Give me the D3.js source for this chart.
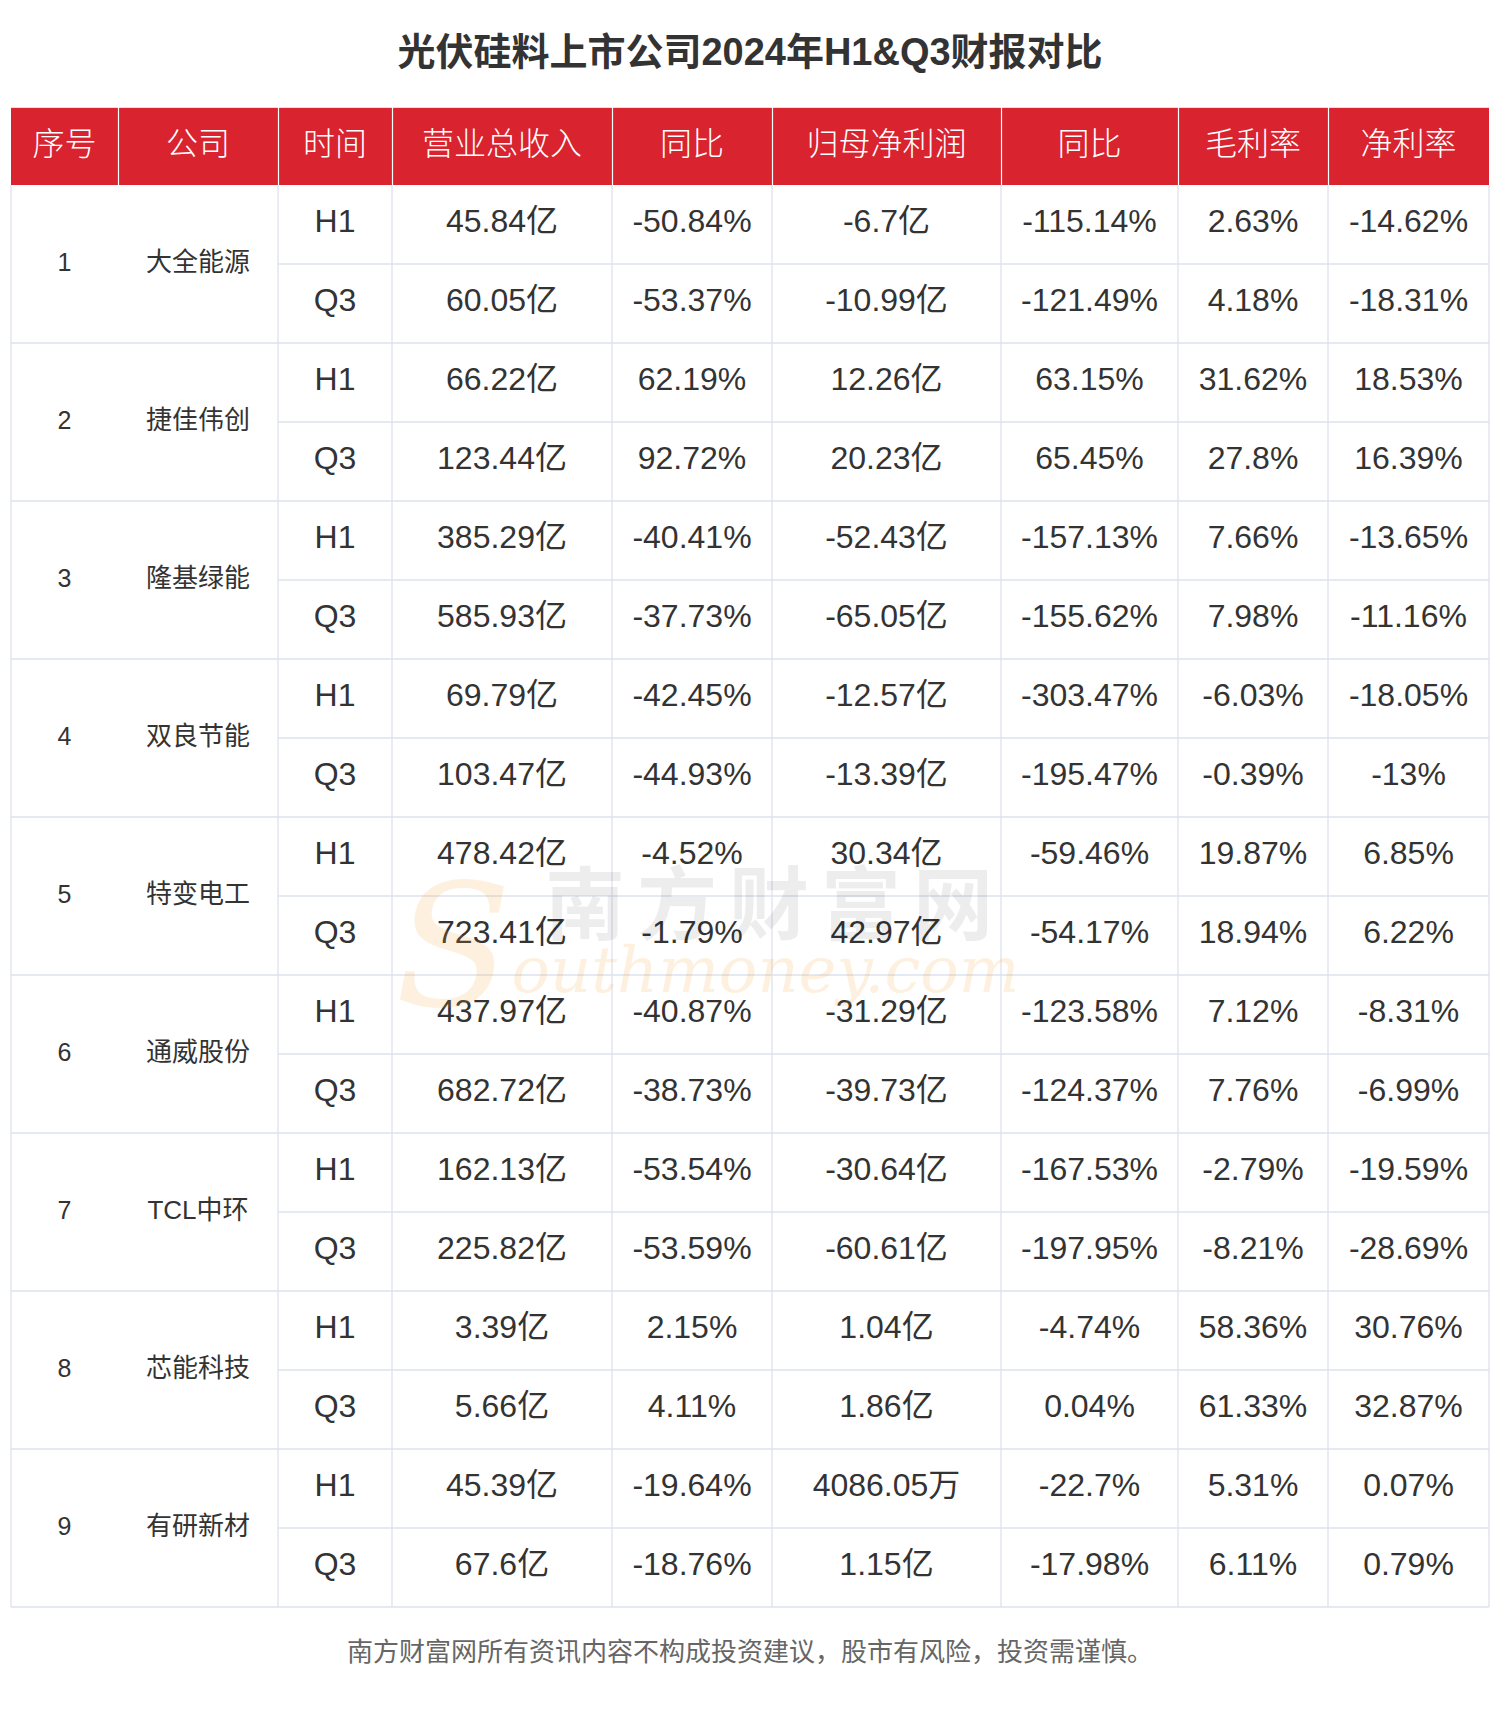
<!DOCTYPE html>
<html><head><meta charset="utf-8">
<script src="https://cdn.jsdelivr.net/npm/d3@7"></script>
<style>
html,body{margin:0;padding:0;background:#fff;}
svg{display:block;}
</style>
</head><body>
<svg id="chart" width="1500" height="1709"></svg>
<script>
const title = "光伏硅料上市公司2024年H1&Q3财报对比";
const footer = "南方财富网所有资讯内容不构成投资建议，股市有风险，投资需谨慎。";
const headers = ["序号","公司","时间","营业总收入","同比","归母净利润","同比","毛利率","净利率"];
const companies = ["大全能源","捷佳伟创","隆基绿能","双良节能","特变电工","通威股份","TCL中环","芯能科技","有研新材"];
const periods = ["H1","Q3"];
const revenue = [["45.84亿","60.05亿"],["66.22亿","123.44亿"],["385.29亿","585.93亿"],["69.79亿","103.47亿"],["478.42亿","723.41亿"],["437.97亿","682.72亿"],["162.13亿","225.82亿"],["3.39亿","5.66亿"],["45.39亿","67.6亿"]];
const revenueYoY = [["-50.84%","-53.37%"],["62.19%","92.72%"],["-40.41%","-37.73%"],["-42.45%","-44.93%"],["-4.52%","-1.79%"],["-40.87%","-38.73%"],["-53.54%","-53.59%"],["2.15%","4.11%"],["-19.64%","-18.76%"]];
const netProfit = [["-6.7亿","-10.99亿"],["12.26亿","20.23亿"],["-52.43亿","-65.05亿"],["-12.57亿","-13.39亿"],["30.34亿","42.97亿"],["-31.29亿","-39.73亿"],["-30.64亿","-60.61亿"],["1.04亿","1.86亿"],["4086.05万","1.15亿"]];
const profitYoY = [["-115.14%","-121.49%"],["63.15%","65.45%"],["-157.13%","-155.62%"],["-303.47%","-195.47%"],["-59.46%","-54.17%"],["-123.58%","-124.37%"],["-167.53%","-197.95%"],["-4.74%","0.04%"],["-22.7%","-17.98%"]];
const grossMargin = [["2.63%","4.18%"],["31.62%","27.8%"],["7.66%","7.98%"],["-6.03%","-0.39%"],["19.87%","18.94%"],["7.12%","7.76%"],["-2.79%","-8.21%"],["58.36%","61.33%"],["5.31%","6.11%"]];
const netMargin = [["-14.62%","-18.31%"],["18.53%","16.39%"],["-13.65%","-11.16%"],["-18.05%","-13%"],["6.85%","6.22%"],["-8.31%","-6.99%"],["-19.59%","-28.69%"],["30.76%","32.87%"],["0.07%","0.79%"]];

const svg = d3.select("#chart");
const FONT = "'Liberation Sans', Arial, 'Noto Sans CJK SC', sans-serif";
const RED = "#d9232f", GRID = "#dde2ec", TXT = "#333";

// Column edges
const colEdges = [11, 118, 278, 392, 612, 772, 1001, 1178, 1328, 1489];
const colLeft = d3.scaleOrdinal().domain(d3.range(9)).range(colEdges.slice(0, 9));
const colRight = d3.scaleOrdinal().domain(d3.range(9)).range(colEdges.slice(1));
const colMid = i => (colLeft(i) + colRight(i)) / 2;

const headTop = 107, headBottom = 185, bodyBottom = 1607;
const nRows = companies.length * periods.length;
const y = d3.scaleBand().domain(d3.range(nRows)).range([headBottom, bodyBottom]).paddingInner(0).paddingOuter(0);

// Title
svg.append("text").attr("x", 750).attr("y", 52)
  .attr("text-anchor", "middle").attr("dominant-baseline", "central")
  .attr("font-family", FONT).attr("font-weight", "bold").attr("font-size", 38)
  .attr("fill", TXT).text(title);

// Header
svg.append("rect").attr("x", colEdges[0]).attr("y", headTop)
  .attr("width", colEdges[9] - colEdges[0]).attr("height", headBottom - headTop)
  .attr("fill", RED);
svg.append("line").attr("x1", colEdges[0]).attr("x2", colEdges[9])
  .attr("y1", headTop + 0.5).attr("y2", headTop + 0.5).attr("stroke", GRID).attr("stroke-width", 1);
svg.selectAll(".hsep").data(d3.range(1, 9)).join("line")
  .attr("x1", i => colLeft(i) + 0.5).attr("x2", i => colLeft(i) + 0.5)
  .attr("y1", headTop).attr("y2", headBottom)
  .attr("stroke", "#ffffff").attr("stroke-width", 1.2);
svg.selectAll(".htext").data(headers).join("text")
  .attr("x", (d, i) => colMid(i)).attr("y", 141)
  .attr("text-anchor", "middle").attr("dominant-baseline", "central")
  .attr("font-family", "'Noto Sans CJK SC', sans-serif").attr("font-weight", 300)
  .attr("font-size", 32).attr("fill", "#fff").text(d => d);

// Body grid
const grid = svg.append("g").attr("stroke", GRID).attr("stroke-width", 1.3);
[0, 2, 3, 4, 5, 6, 7, 8, 9].forEach(k => {
  grid.append("line").attr("x1", colEdges[k]).attr("x2", colEdges[k])
    .attr("y1", headBottom).attr("y2", bodyBottom);
});
d3.range(1, nRows + 1).forEach(r => {
  const yy = y(r - 1) + y.bandwidth();
  const full = (r % 2 === 0);
  grid.append("line").attr("x1", full ? colEdges[0] : colEdges[2]).attr("x2", colEdges[9])
    .attr("y1", yy).attr("y2", yy);
});

// Body texts
const metrics = [revenue, revenueYoY, netProfit, profitYoY, grossMargin, netMargin];
const rowsData = [];
companies.forEach((c, ci) => {
  periods.forEach((p, pi) => {
    const r = ci * 2 + pi;
    rowsData.push({r, col: 2, text: p});
    metrics.forEach((m, mi) => rowsData.push({r, col: 3 + mi, text: m[ci][pi]}));
  });
});
svg.append("g").selectAll("text").data(rowsData).join("text")
  .attr("x", d => colMid(d.col)).attr("y", d => y(d.r) + y.bandwidth() / 2 - 3.5)
  .attr("text-anchor", "middle").attr("dominant-baseline", "central")
  .attr("font-family", FONT).attr("font-size", 32).attr("fill", TXT)
  .text(d => d.text);

const groupMid = ci => y(ci * 2) + y.bandwidth();
svg.append("g").selectAll("text").data(companies).join("text")
  .attr("x", colMid(0)).attr("y", (d, i) => groupMid(i) - 2)
  .attr("text-anchor", "middle").attr("dominant-baseline", "central")
  .attr("font-family", FONT).attr("font-size", 25).attr("fill", TXT)
  .text((d, i) => String(i + 1));
svg.append("g").selectAll("text").data(companies).join("text")
  .attr("x", colMid(1)).attr("y", (d, i) => groupMid(i) - 2)
  .attr("text-anchor", "middle").attr("dominant-baseline", "central")
  .attr("font-family", FONT).attr("font-size", 26).attr("fill", TXT)
  .text(d => d);

// Watermark
const wm = svg.append("g").attr("pointer-events", "none");
wm.append("text").attr("x", 775).attr("y", 898)
  .attr("text-anchor", "middle").attr("dominant-baseline", "central")
  .attr("font-family", "'Noto Sans CJK SC', sans-serif").attr("font-weight", "bold")
  .attr("font-size", 80).attr("letter-spacing", 12)
  .attr("fill", "#000").attr("fill-opacity", 0.07).text("南方财富网");
const wt = wm.append("text").attr("x", 395).attr("y", 992)
  .attr("font-family", "'DejaVu Serif', 'Liberation Serif', serif").attr("font-style", "italic")
  .attr("fill", "#f7a335").attr("fill-opacity", 0.16);
wt.append("tspan").attr("font-size", 170).attr("dy", 14).text("S");
wt.append("tspan").attr("font-size", 64).attr("dy", -14).text("outhmoney.com");

// Footer
svg.append("text").attr("x", 750).attr("y", 1649)
  .attr("text-anchor", "middle").attr("dominant-baseline", "central")
  .attr("font-family", "'Noto Sans CJK SC', sans-serif").attr("font-size", 26)
  .attr("fill", "#666").text(footer);
</script>
</body></html>
